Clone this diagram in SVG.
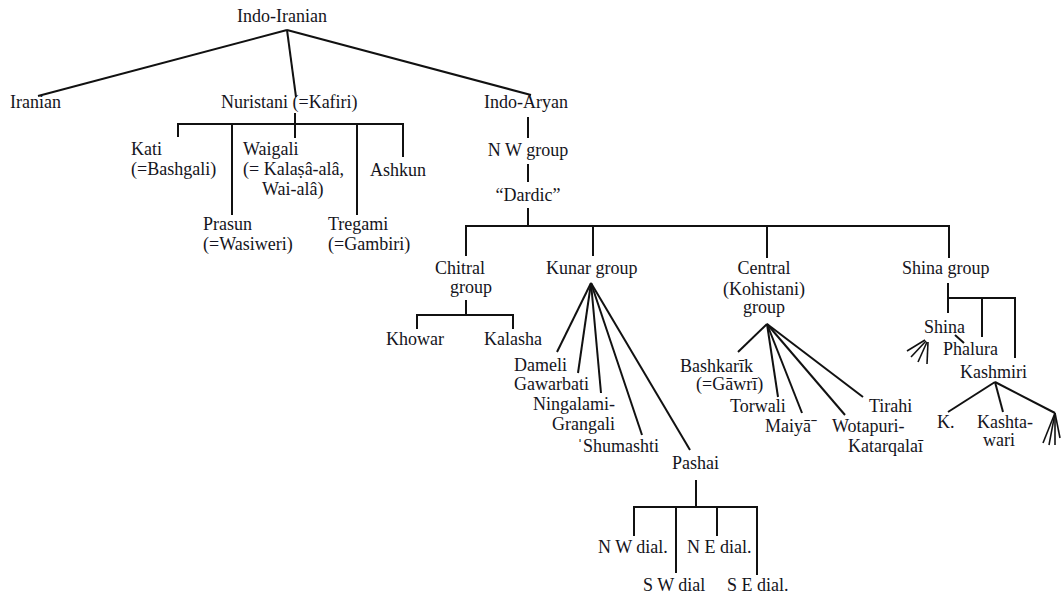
<svg xmlns="http://www.w3.org/2000/svg" width="1062" height="598" viewBox="0 0 1062 598">
  <style>
    text { font-family: "Liberation Serif", "Times New Roman", serif; font-size: 18px; fill: #141420; }
    .c line { stroke: #111; stroke-width: 2; fill: none; stroke-linecap: butt; }
    .thin line { stroke-width: 1.6; }
  </style>
  <rect width="1062" height="598" fill="#fff"/>

  <!-- connectors -->
  <g id="connectors" class="c">
    <!-- Indo-Iranian split -->
    <line x1="287" y1="30" x2="38" y2="96"/>
    <line x1="287" y1="30" x2="296" y2="97"/>
    <line x1="287" y1="30" x2="531" y2="95"/>

    <!-- Nuristani rake -->
    <line x1="295" y1="113" x2="295" y2="138"/>
    <line x1="177" y1="124" x2="404" y2="124"/>
    <line x1="178" y1="123" x2="178" y2="137"/>
    <line x1="232" y1="123" x2="232" y2="215"/>
    <line x1="357" y1="123" x2="357" y2="215"/>
    <line x1="403" y1="123" x2="403" y2="157"/>

    <!-- Indo-Aryan chain -->
    <line x1="528" y1="117" x2="528" y2="138"/>
    <line x1="528" y1="164" x2="528" y2="182"/>
    <line x1="528" y1="208" x2="528" y2="227"/>

    <!-- Dardic rake -->
    <line x1="465" y1="226" x2="950" y2="226"/>
    <line x1="466" y1="225" x2="466" y2="256"/>
    <line x1="593" y1="225" x2="593" y2="256"/>
    <line x1="767" y1="225" x2="767" y2="258"/>
    <line x1="949" y1="225" x2="949" y2="258"/>

    <!-- Chitral group -->
    <line x1="466" y1="300" x2="466" y2="315"/>
    <line x1="416" y1="315" x2="514" y2="315"/>
    <line x1="417" y1="314" x2="417" y2="329"/>
    <line x1="513" y1="314" x2="513" y2="329"/>

    <!-- Kunar fan -->
    <line x1="591" y1="283" x2="557" y2="352"/>
    <line x1="591" y1="283" x2="578" y2="373"/>
    <line x1="591" y1="283" x2="601" y2="393"/>
    <line x1="591" y1="283" x2="642" y2="435"/>
    <line x1="591" y1="283" x2="690" y2="450"/>

    <!-- Central fan -->
    <line x1="767" y1="324" x2="738" y2="352"/>
    <line x1="767" y1="324" x2="778" y2="397"/>
    <line x1="767" y1="324" x2="802" y2="413"/>
    <line x1="767" y1="324" x2="845" y2="415"/>
    <line x1="767" y1="324" x2="863" y2="397"/>

    <!-- Shina group rake -->
    <line x1="948" y1="283" x2="948" y2="313"/>
    <line x1="947" y1="298" x2="1016" y2="298"/>
    <line x1="982" y1="297" x2="982" y2="337"/>
    <line x1="1015" y1="297" x2="1015" y2="358"/>
    <line x1="955" y1="335" x2="964" y2="343"/>

    <!-- Shina dialect strokes -->
    <g class="thin">
      <line x1="925" y1="340" x2="907" y2="351"/>
      <line x1="926" y1="341" x2="911" y2="357"/>
      <line x1="927" y1="342" x2="918" y2="362"/>
      <line x1="928" y1="342" x2="927" y2="364"/>
    </g>

    <!-- Kashmiri fan -->
    <line x1="995" y1="382" x2="948" y2="412"/>
    <line x1="995" y1="382" x2="1003" y2="412"/>
    <line x1="995" y1="382" x2="1055" y2="413"/>
    <g class="thin">
      <line x1="1055" y1="413" x2="1043" y2="443"/>
      <line x1="1055" y1="413" x2="1049" y2="445"/>
      <line x1="1055" y1="413" x2="1055" y2="445"/>
      <line x1="1055" y1="413" x2="1060" y2="438"/>
    </g>

    <!-- Pashai rake -->
    <line x1="696" y1="480" x2="696" y2="508"/>
    <line x1="633" y1="507" x2="756" y2="507"/>
    <line x1="634" y1="506" x2="634" y2="536"/>
    <line x1="676" y1="506" x2="676" y2="573"/>
    <line x1="717" y1="506" x2="717" y2="536"/>
    <line x1="757" y1="506" x2="757" y2="575"/>
  </g>

  <!-- nodes -->
  <g id="indo-iranian"><text x="237" y="22">Indo-Iranian</text></g>
  <g id="iranian"><text x="10" y="108">Iranian</text></g>
  <g id="nuristani"><text x="221" y="108">Nuristani (=Kafiri)</text></g>
  <g id="indo-aryan"><text x="484" y="108">Indo-Aryan</text></g>

  <g id="kati"><text x="131" y="155">Kati</text><text x="131" y="175">(=Bashgali)</text></g>
  <g id="waigali"><text x="243" y="155">Waigali</text><text x="243" y="175">(= Kalaṣâ-alâ,</text><text x="262" y="195">Wai-alâ)</text></g>
  <g id="ashkun"><text x="370" y="176">Ashkun</text></g>
  <g id="prasun"><text x="203" y="230">Prasun</text><text x="203" y="250">(=Wasiweri)</text></g>
  <g id="tregami"><text x="328" y="230">Tregami</text><text x="328" y="250">(=Gambiri)</text></g>

  <g id="nw-group"><text x="528" y="156" text-anchor="middle">N W group</text></g>
  <g id="dardic"><text x="528" y="201" text-anchor="middle">“Dardic”</text></g>

  <g id="chitral"><text x="435" y="274">Chitral</text><text x="450" y="293">group</text></g>
  <g id="khowar"><text x="386" y="345">Khowar</text></g>
  <g id="kalasha"><text x="484" y="345">Kalasha</text></g>

  <g id="kunar"><text x="546" y="274">Kunar group</text></g>
  <g id="dameli"><text x="514" y="371">Dameli</text></g>
  <g id="gawarbati"><text x="514" y="390">Gawarbati</text></g>
  <g id="ningalami"><text x="533" y="410">Ningalami-</text><text x="552" y="430">Grangali</text></g>
  <g id="shumashti"><text x="577" y="452">ˈShumashti</text></g>
  <g id="pashai"><text x="672" y="469">Pashai</text></g>

  <g id="central"><text x="764" y="274" text-anchor="middle">Central</text><text x="764" y="295" text-anchor="middle">(Kohistani)</text><text x="764" y="313" text-anchor="middle">group</text></g>
  <g id="bashkarik"><text x="680" y="372">Bashkarīk</text><text x="696" y="390">(=Gāwrī)</text></g>
  <g id="torwali"><text x="730" y="412">Torwali</text></g>
  <g id="maiya"><text x="765" y="432">Maiyāˉ</text></g>
  <g id="wotapuri"><text x="832" y="432">Wotapuri-</text><text x="848" y="452">Katarqalaī</text></g>
  <g id="tirahi"><text x="869" y="412">Tirahi</text></g>

  <g id="shina-group"><text x="902" y="274">Shina group</text></g>
  <g id="shina"><text x="924" y="333">Shina</text></g>
  <g id="phalura"><text x="943" y="355">Phalura</text></g>
  <g id="kashmiri"><text x="960" y="378">Kashmiri</text></g>
  <g id="k"><text x="937" y="428">K.</text></g>
  <g id="kashtawari"><text x="977" y="428">Kashta-</text><text x="983" y="446">wari</text></g>

  <g id="nw-dial"><text x="598" y="553">N W dial.</text></g>
  <g id="ne-dial"><text x="687" y="553">N E dial.</text></g>
  <g id="sw-dial"><text x="643" y="591">S W dial</text></g>
  <g id="se-dial"><text x="727" y="591">S E dial.</text></g>
</svg>
